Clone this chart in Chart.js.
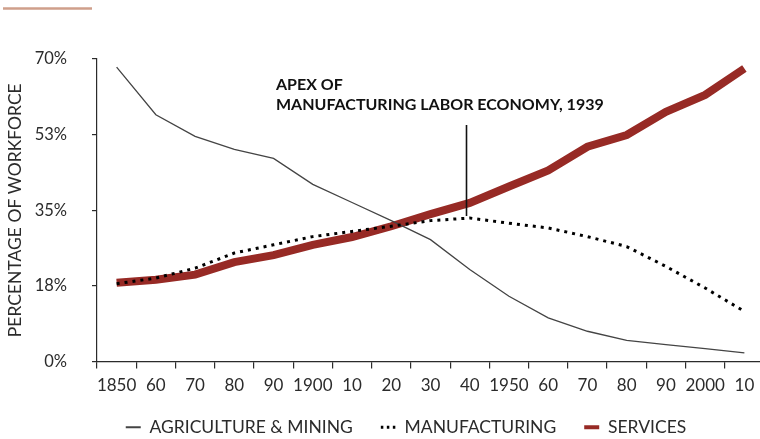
<!DOCTYPE html>
<html>
<head>
<meta charset="utf-8">
<title>Workforce by sector</title>
<script src="https://cdn.jsdelivr.net/npm/chart.js@4.4.1/dist/chart.umd.min.js"></script>
<style>
  html, body { margin: 0; padding: 0; background: #fff; overflow: hidden; }
  #wrap { width: 764px; height: 439px; }
</style>
</head>
<body>
<div id="wrap"><canvas id="sector-chart"></canvas></div>
<script>
// Share of workforce by sector, per decade
const years = [1850, 1860, 1870, 1880, 1890, 1900, 1910, 1920, 1930, 1940, 1950, 1960, 1970, 1980, 1990, 2000, 2010];
const tickLabels = ['1850', '60', '70', '80', '90', '1900', '10', '20', '30', '40', '1950', '60', '70', '80', '90', '2000', '10'];
const agriculture = [68.1, 57.1, 52.1, 49.1, 47.0, 41.0, 36.8, 32.6, 28.2, 21.3, 15.1, 10.1, 7.0, 4.9, 3.9, 3.0, 2.0];
const manufacturing = [18.0, 19.3, 21.6, 25.1, 27.0, 28.9, 30.1, 31.3, 32.6, 33.2, 32.0, 30.9, 28.9, 26.6, 22.0, 17.0, 11.6];
const services = [18.2, 18.9, 20.1, 23.0, 24.6, 27.0, 28.8, 31.3, 34.1, 36.7, 40.5, 44.2, 49.7, 52.4, 57.8, 61.7, 67.8];
const yTicks = [0, 17.5, 35, 52.5, 70];

// Callout for the manufacturing peak
const apexYear = 1939;
const apexLines = ['APEX OF', 'MANUFACTURING LABOR ECONOMY, 1939'];

const INK = '#2b2b2b';
const RED = '#972a25';

Chart.defaults.font.family = 'Lato, "Open Sans", sans-serif';
Chart.defaults.color = INK;

// Vertical marker + label at the apex, plus the small rule in the corner
const apexNote = {
  id: 'apexNote',
  afterDatasetsDraw(chart) {
    const { ctx, scales: { x, y } } = chart;
    const base = years.indexOf(1930);
    const px = Math.round(x.getPixelForValue(base + (apexYear - 1930) / 10)) + 0.5;
    const peak = Math.max(...manufacturing);

    ctx.save();
    ctx.strokeStyle = '#111';
    ctx.lineWidth = 1.6;
    ctx.beginPath();
    ctx.moveTo(px, 125);
    ctx.lineTo(px, y.getPixelForValue(peak) - 2);
    ctx.stroke();

    ctx.fillStyle = '#111';
    ctx.font = 'bold 16px Lato';
    ctx.textBaseline = 'alphabetic';
    apexLines.forEach((t, i) => ctx.fillText(t, 276, 90 + i * 20));

    ctx.strokeStyle = '#cf9f8b';
    ctx.lineWidth = 2.5;
    ctx.beginPath();
    ctx.moveTo(3, 8.5);
    ctx.lineTo(92, 8.5);
    ctx.stroke();
    ctx.restore();
  }
};

// Nudge the legend row into place under the plot
const legendNudge = {
  id: 'legendNudge',
  afterLayout(chart) {
    const l = chart.legend;
    l.left += 23; l.right += 23;
    l.top -= 4; l.bottom -= 4;
  }
};

const ctx = document.getElementById('sector-chart').getContext('2d');
const chart = new Chart(ctx, {
  type: 'line',
  data: {
    labels: years,
    datasets: [
      {
        label: 'AGRICULTURE & MINING',
        data: agriculture,
        borderColor: '#444',
        backgroundColor: '#444',
        borderWidth: 1.3,
        pointRadius: 0,
        order: 1
      },
      {
        label: 'MANUFACTURING',
        data: manufacturing,
        borderColor: '#000',
        backgroundColor: '#000',
        borderWidth: 3,
        borderDash: [3, 5],
        pointRadius: 0,
        order: 0
      },
      {
        label: 'SERVICES',
        data: services,
        borderColor: RED,
        backgroundColor: RED,
        borderWidth: 8,
        pointRadius: 0,
        order: 2
      }
    ]
  },
  options: {
    responsive: true,
    maintainAspectRatio: false,
    animation: false,
    layout: { padding: { top: 59, left: 2, right: 0, bottom: -11 } },
    plugins: {
      tooltip: { enabled: false },
      legend: {
        position: 'bottom',
        labels: {
          usePointStyle: true,
          pointStyle: 'line',
          pointStyleWidth: 15,
          padding: 28,
          color: INK,
          font: { size: 17.5 },
          sort: (a, b) => a.datasetIndex - b.datasetIndex,
          generateLabels(chart) {
            const items = Chart.defaults.plugins.legend.labels.generateLabels(chart);
            const widths = [1.8, 3, 4];
            const dashes = [[], [2.5, 3.5], []];
            items.forEach(it => {
              it.lineWidth = widths[it.datasetIndex];
              it.lineDash = dashes[it.datasetIndex];
            });
            return items;
          }
        }
      }
    },
    scales: {
      x: {
        type: 'category',
        offset: true,
        grid: { offset: true, drawOnChartArea: false, tickLength: 7, color: INK, lineWidth: 1.2 },
        border: { color: INK, width: 1.2 },
        ticks: {
          autoSkip: false,
          maxRotation: 0,
          padding: 7,
          color: INK,
          font: { size: 17 },
          callback: (v, i) => tickLabels[i]
        },
        afterFit: s => { s.height = 33; }
      },
      y: {
        min: 0,
        max: 70,
        grid: { drawOnChartArea: false, tickLength: 5, color: INK, lineWidth: 1.2 },
        border: { color: INK, width: 1.2 },
        afterBuildTicks: s => { s.ticks = yTicks.map(v => ({ value: v })); },
        ticks: {
          padding: 25,
          color: INK,
          font: { size: 16.5 },
          callback: v => Math.round(v) + '%'
        },
        title: {
          display: true,
          text: 'PERCENTAGE OF WORKFORCE',
          color: INK,
          font: { size: 17.5 },
          padding: { top: 3, bottom: 4 }
        },
        afterFit: s => { s.width = 95; }
      }
    }
  },
  plugins: [apexNote, legendNudge]
});
</script>
</body>
</html>
